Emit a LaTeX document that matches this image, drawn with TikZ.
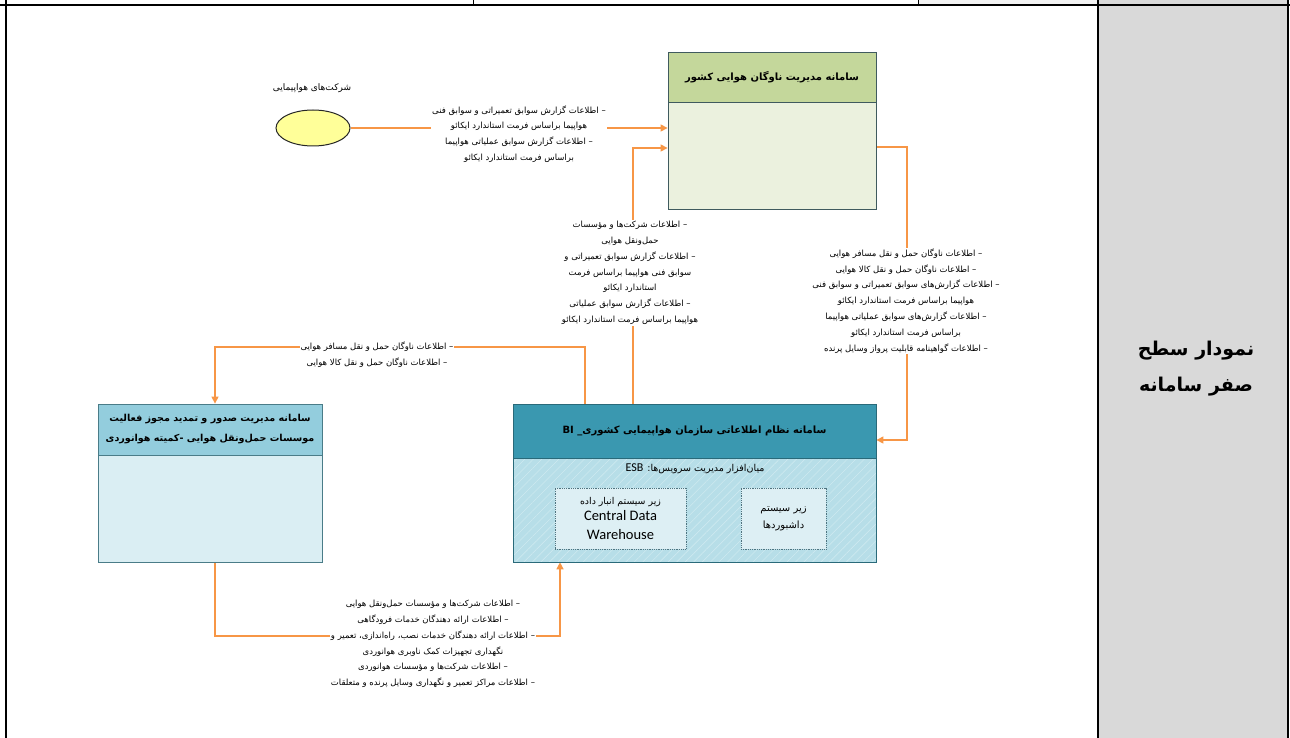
\documentclass[tikz,border=0pt]{standalone}
\usepackage{fontspec}
\setmainfont{DejaVu Sans}
\newfontfamily\fa[Script=Arabic]{DejaVu Sans}
\newfontfamily\lat{Carlito}
\TeXXeTstate=1
\usetikzlibrary{shapes.geometric,arrows.meta,patterns.meta,backgrounds}
\newcommand\rl[1]{\beginR #1\endR}
\definecolor{orng}{HTML}{F79646}
\definecolor{colgray}{HTML}{D9D9D9}
\definecolor{rowgray}{HTML}{F2F2F2}
\definecolor{tophdr}{HTML}{C4D79B}
\definecolor{topbdy}{HTML}{EBF1DE}
\definecolor{topbrd}{HTML}{3F5A5E}
\definecolor{bihdr}{HTML}{3A98B0}
\definecolor{bibdy}{HTML}{B7DEE8}
\definecolor{bibrd}{HTML}{2A6A7A}
\definecolor{bihatch}{HTML}{CDE9F0}
\definecolor{lhdr}{HTML}{93CDDD}
\definecolor{lbdy}{HTML}{DAEEF3}
\definecolor{lbrd}{HTML}{4A7C88}
\definecolor{subfill}{HTML}{DDEFF4}
\definecolor{subbrd}{HTML}{4F7480}
\definecolor{ellfill}{HTML}{FFFF99}
\tikzset{
  conn/.style={draw=orng, line width=1.2pt},
  arr/.style={conn, -{Triangle[length=7pt,width=7pt]}},
  lbl/.style={fill=white, inner sep=1pt, align=center, font=\fa\fontsize{8.5}{15.8}\selectfont},
  hdrtext/.style={align=center, font=\fa\bfseries\fontsize{10}{20}\selectfont},
}
\begin{document}
\begin{tikzpicture}[x=1pt,y=-1pt]
\useasboundingbox (0,0) rectangle (1290,738);
% frame
\fill[rowgray] (918,0) rectangle (1098,5);
\fill[colgray] (1098,0) rectangle (1288,738);
\draw[line width=0.8pt] (473,0) -- (473,5);
\draw[line width=0.8pt] (918,0) -- (918,5);
\draw[line width=2.5pt] (0,5) -- (1290,5);
\draw[line width=2.5pt] (6,0) -- (6,738);
\draw[line width=2.5pt] (1098,0) -- (1098,738);
\draw[line width=1.5pt] (1288,0) -- (1288,738);
\node[font=\fa\bfseries\fontsize{19}{36}\selectfont, align=center] (title) at (1196,369) {\rl{نمودار سطح}\\\rl{صفر سامانه}};

% top box
\node[draw=topbrd, line width=0.8pt, fill=tophdr, minimum width=208, minimum height=50, hdrtext] (tophd) at (772,77) {\rl{سامانه مدیریت ناوگان هوایی کشور}};
\node[draw=topbrd, line width=0.8pt, fill=topbdy, minimum width=208, minimum height=107] (topbody) at (772,155.5) {};

% BI box
\node[draw=bibrd, line width=0.8pt, fill=bihdr, minimum width=363, minimum height=54, hdrtext] (bihd) at (694.5,431) {\rl{سامانه نظام اطلاعاتی سازمان هواپیمایی کشوری\_ \beginL BI\endL}};
\node[draw=bibrd, line width=0.8pt, preaction={fill=bibdy},
  pattern={Lines[angle=45,distance=6pt,line width=0.6pt]}, pattern color=bihatch, minimum width=363, minimum height=104] (bibody) at (694.5,510) {};
\node[font=\fa\fontsize{9.5}{12}\selectfont] (esb) at (695,469) {\rl{میان‌افزار مدیریت سرویس‌ها: \beginL{\lat\fontsize{12}{12}\selectfont ESB}\endL}};
\node[draw=subbrd, densely dotted, line width=0.8pt, fill=subfill, minimum width=131, minimum height=61, align=center, inner sep=1pt,
  font=\lat\fontsize{14.5}{19}\selectfont] (dw) at (620.5,518.5)
  {{\fa\fontsize{9.4}{12}\selectfont\rl{زیر سیستم انبار داده}}\\[-3pt]Central Data\\Warehouse};
\node[draw=subbrd, densely dotted, line width=0.8pt, fill=subfill, minimum width=85, minimum height=61, align=center, font=\fa\fontsize{10}{17}\selectfont] (dash) at (783.5,518.5)
  {\rl{زیر سیستم}\\\rl{داشبوردها}};

% left box
\node[draw=lbrd, line width=0.8pt, fill=lhdr, minimum width=224, minimum height=51, hdrtext, font=\fa\bfseries\fontsize{9.6}{20}\selectfont] (lhd) at (210,429.5)
  {\rl{سامانه مدیریت صدور و تمدید مجوز فعالیت}\\\rl{موسسات حمل‌ونقل هوایی -کمیته هوانوردی}};
\node[draw=lbrd, line width=0.8pt, fill=lbdy, minimum width=224, minimum height=107] (lbody) at (210,508.5) {};

% ellipse
\node[ellipse, draw=black!85, line width=1pt, fill=ellfill, minimum width=74, minimum height=36] (ell) at (313,128) {};
\node[font=\fa\fontsize{9}{10}\selectfont] (elllbl) at (312,88) {\rl{شرکت‌های هواپیمایی}};

% helper coordinates
\coordinate (bT) at (633,148);
\coordinate (cT) at (907,147);
\coordinate (cB) at (907,440);
\coordinate (dT) at (585,347);
\coordinate (dL) at (215,347);
\coordinate (eL) at (215,636);
\coordinate (eR) at (560,636);

% connectors
\begin{scope}[on background layer]
\draw[arr] (ell.east) -- (ell.east -| topbody.west);
\draw[arr] (bihd.north -| bT) -- (bT) -- (topbody.west |- bT);
\draw[arr] (topbody.east |- cT) -- (cT) -- (cB) -- (bihd.east |- cB);
\draw[arr] (bihd.north -| dT) -- (dT) -- (dL) -- (lhd.north -| dL);
\draw[arr] (lbody.south -| eL) -- (eL) -- (eR) -- (bibody.south -| eR);
\end{scope}

% labels
\node[lbl] (la) at (519,134) {\rl{– اطلاعات گزارش سوابق تعمیراتی و سوابق فنی}\\\rl{هواپیما براساس فرمت استاندارد ایکائو}\\\rl{– اطلاعات گزارش سوابق عملیاتی هواپیما}\\\rl{براساس فرمت استاندارد ایکائو}};
\node[lbl] (lb) at (630,273) {\rl{– اطلاعات شرکت‌ها و مؤسسات}\\\rl{حمل‌ونقل هوایی}\\\rl{– اطلاعات گزارش سوابق تعمیراتی و}\\\rl{سوابق فنی هواپیما براساس فرمت}\\\rl{استاندارد ایکائو}\\\rl{– اطلاعات گزارش سوابق عملیاتی}\\\rl{هواپیما براساس فرمت استاندارد ایکائو}};
\node[lbl] (lc) at (906,301) {\rl{– اطلاعات ناوگان حمل و نقل مسافر هوایی}\\\rl{– اطلاعات ناوگان حمل و نقل کالا هوایی}\\\rl{– اطلاعات گزارش‌های سوابق تعمیراتی و سوابق فنی}\\\rl{هواپیما براساس فرمت استاندارد ایکائو}\\\rl{– اطلاعات گزارش‌های سوابق عملیاتی هواپیما}\\\rl{براساس فرمت استاندارد ایکائو}\\\rl{– اطلاعات گواهینامه قابلیت پرواز وسایل پرنده}};
\node[lbl] (ld) at (377,355) {\rl{– اطلاعات ناوگان حمل و نقل مسافر هوایی}\\\rl{– اطلاعات ناوگان حمل و نقل کالا هوایی}};
\node[lbl] (le) at (433,644) {\rl{– اطلاعات شرکت‌ها و مؤسسات حمل‌ونقل هوایی}\\\rl{– اطلاعات ارائه دهندگان خدمات فرودگاهی}\\\rl{– اطلاعات ارائه دهندگان خدمات نصب، راه‌اندازی، تعمیر و}\\\rl{نگهداری تجهیزات کمک ناوبری هوانوردی}\\\rl{– اطلاعات شرکت‌ها و مؤسسات هوانوردی}\\\rl{– اطلاعات مراکز تعمیر و نگهداری وسایل پرنده و متعلقات}};
\end{tikzpicture}
\end{document}
